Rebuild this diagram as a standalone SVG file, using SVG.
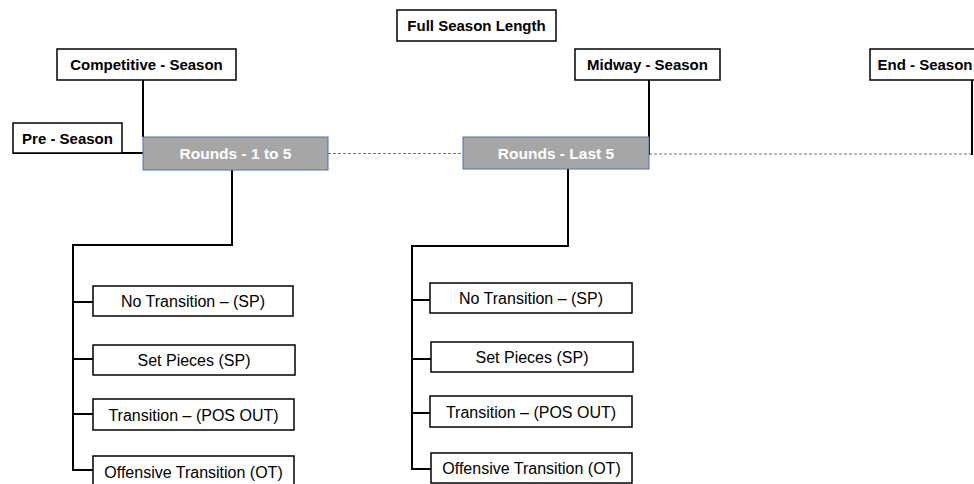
<svg xmlns="http://www.w3.org/2000/svg" width="974" height="484" viewBox="0 0 974 484">
<style>
.box{fill:#fff;stroke:#000;stroke-width:1.5}
.gbox{fill:#a6a6a6;stroke:#4a72b8;stroke-width:1}
.hd{font-family:"Liberation Sans",Arial,sans-serif;font-weight:bold;font-size:15px;fill:#000;text-anchor:middle}
.wt{font-family:"Liberation Sans",Arial,sans-serif;font-weight:bold;font-size:15.5px;fill:#fff;text-anchor:middle}
.tx{font-family:"Liberation Sans",Arial,sans-serif;font-size:16px;fill:#000;text-anchor:middle}
.ln{fill:none;stroke:#000;stroke-width:2}
.dash{fill:none;stroke:#777;stroke-width:1;stroke-dasharray:3 2}
</style>
<rect width="974" height="484" fill="#fff"/>
<g id="connectors">
<line class="dash" x1="328" y1="153.5" x2="463" y2="153.5"/>
<line class="dash" x1="649" y1="154" x2="972" y2="154"/>
<polyline class="ln" points="13,153 143,153"/>
<line class="ln" x1="143" y1="80" x2="143" y2="137"/>
<line class="ln" x1="649" y1="80" x2="649" y2="155"/>
<line class="ln" x1="972" y1="80" x2="972" y2="155"/>
<polyline class="ln" points="232,170 232,245 73,245 73,470 93,470"/>
<line class="ln" x1="73" y1="302" x2="93" y2="302"/>
<line class="ln" x1="73" y1="359" x2="93" y2="359"/>
<line class="ln" x1="73" y1="414" x2="93" y2="414"/>
<polyline class="ln" points="568,169 568,246 412,246 412,469 431,469"/>
<line class="ln" x1="412" y1="300" x2="430" y2="300"/>
<line class="ln" x1="412" y1="359" x2="431" y2="359"/>
<line class="ln" x1="412" y1="413" x2="430" y2="413"/>
</g>
<g id="full-season"><rect class="box" x="397" y="10" width="159" height="31"/><text class="hd" x="476.5" y="31">Full Season Length</text></g>
<g id="competitive-season"><rect class="box" x="57" y="49" width="179" height="31"/><text class="hd" x="146.5" y="70">Competitive - Season</text></g>
<g id="pre-season"><rect class="box" x="13" y="123" width="109" height="30"/><text class="hd" x="67.5" y="144">Pre - Season</text></g>
<g id="midway-season"><rect class="box" x="575" y="49" width="145" height="31"/><text class="hd" x="647.5" y="70">Midway - Season</text></g>
<g id="end-season"><rect class="box" x="870" y="49" width="110" height="31"/><text class="hd" x="925" y="70">End - Season</text></g>
<g id="rounds-1-5"><rect class="gbox" x="143" y="137" width="185" height="33"/><text class="wt" x="235.5" y="159">Rounds - 1 to 5</text></g>
<g id="rounds-last-5"><rect class="gbox" x="463" y="137" width="186" height="32"/><text class="wt" x="556" y="159">Rounds - Last 5</text></g>
<g id="l-no-transition"><rect class="box" x="93" y="286" width="200" height="30"/><text class="tx" x="193" y="307">No Transition – (SP)</text></g>
<g id="l-set-pieces"><rect class="box" x="93" y="345" width="202" height="30"/><text class="tx" x="194" y="366">Set Pieces (SP)</text></g>
<g id="l-transition"><rect class="box" x="93" y="399" width="201" height="31"/><text class="tx" x="193.5" y="420.5">Transition – (POS OUT)</text></g>
<g id="l-offensive"><rect class="box" x="93" y="456" width="201" height="32"/><text class="tx" x="193.5" y="477.5">Offensive Transition (OT)</text></g>
<g id="r-no-transition"><rect class="box" x="430" y="283" width="202" height="30"/><text class="tx" x="531" y="304">No Transition – (SP)</text></g>
<g id="r-set-pieces"><rect class="box" x="431" y="342" width="202" height="30"/><text class="tx" x="532" y="363">Set Pieces (SP)</text></g>
<g id="r-transition"><rect class="box" x="430" y="396" width="202" height="31"/><text class="tx" x="531" y="417.5">Transition – (POS OUT)</text></g>
<g id="r-offensive"><rect class="box" x="431" y="453" width="201" height="30"/><text class="tx" x="531.5" y="474">Offensive Transition (OT)</text></g>
</svg>
